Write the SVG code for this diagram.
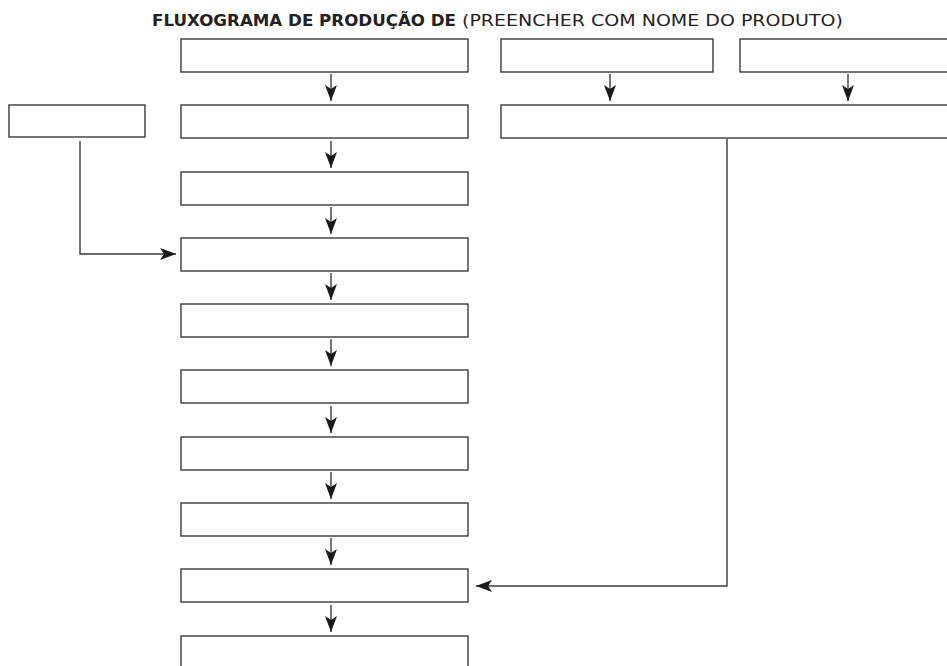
<svg xmlns="http://www.w3.org/2000/svg" width="947" height="666" viewBox="0 0 947 666">
<defs>
<style>
.box{fill:#fff;stroke:#3a3a3a;stroke-width:1.4}
.con{fill:none;stroke:#3a3a3a;stroke-width:1.4}
.t{font-family:"DejaVu Sans",Verdana,sans-serif;font-size:16.7px;fill:#222}
</style>
<marker id="ah" viewBox="0 0 16 12" refX="16" refY="6" markerWidth="17" markerHeight="12" markerUnits="userSpaceOnUse" orient="auto">
<path d="M0,0 L16,6 L0,12 L4,6 Z" fill="#1a1a1a"/>
</marker>
</defs>
<rect width="947" height="666" fill="#fff"/>
<text class="t" x="152" y="26" font-weight="bold" textLength="304" lengthAdjust="spacingAndGlyphs">FLUXOGRAMA DE PRODUÇÃO DE</text>
<text class="t" x="462" y="26" textLength="381" lengthAdjust="spacingAndGlyphs">(PREENCHER COM NOME DO PRODUTO)</text>
<g id="n1"><rect class="box" x="181" y="39" width="287" height="33"/></g>
<g id="n2"><rect class="box" x="501" y="39" width="212" height="33"/></g>
<g id="n3"><rect class="box" x="740" y="39" width="212" height="33"/></g>
<g id="n4"><rect class="box" x="9" y="105" width="136" height="32"/></g>
<g id="n5"><rect class="box" x="181" y="105" width="287" height="33"/></g>
<g id="n6"><rect class="box" x="501" y="105" width="452" height="33"/></g>
<g id="n7"><rect class="box" x="181" y="172" width="287" height="33"/></g>
<g id="n8"><rect class="box" x="181" y="238" width="287" height="33"/></g>
<g id="n9"><rect class="box" x="181" y="304" width="287" height="33"/></g>
<g id="n10"><rect class="box" x="181" y="370" width="287" height="33"/></g>
<g id="n11"><rect class="box" x="181" y="437" width="287" height="33"/></g>
<g id="n12"><rect class="box" x="181" y="503" width="287" height="33"/></g>
<g id="n13"><rect class="box" x="181" y="569" width="287" height="33"/></g>
<g id="n14"><rect class="box" x="181" y="636" width="287" height="33"/></g>
<g id="connectors">
<path class="con" marker-end="url(#ah)" d="M331,74 V101"/>
<path class="con" marker-end="url(#ah)" d="M610,74 V101"/>
<path class="con" marker-end="url(#ah)" d="M848,74 V101"/>
<path class="con" marker-end="url(#ah)" d="M331,141 V168"/>
<path class="con" marker-end="url(#ah)" d="M331,207 V234"/>
<path class="con" marker-end="url(#ah)" d="M331,273 V300"/>
<path class="con" marker-end="url(#ah)" d="M331,339 V366"/>
<path class="con" marker-end="url(#ah)" d="M331,406 V433"/>
<path class="con" marker-end="url(#ah)" d="M331,472 V499"/>
<path class="con" marker-end="url(#ah)" d="M331,538 V565"/>
<path class="con" marker-end="url(#ah)" d="M331,605 V632"/>
<path class="con" marker-end="url(#ah)" d="M80,141 V254 H176"/>
<path class="con" marker-end="url(#ah)" d="M727,139 V586 H476"/>
</g>
</svg>
